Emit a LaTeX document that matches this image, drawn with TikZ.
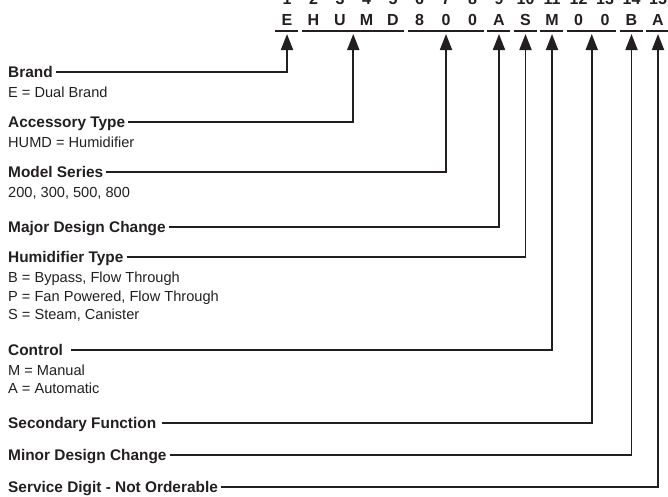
\documentclass[tikz,border=0pt]{standalone}
\usepackage{fontspec}
\setmainfont{Liberation Sans}
\usetikzlibrary{arrows.meta,calc}
\definecolor{ink}{HTML}{231F20}
\begin{document}
\begin{tikzpicture}[x=1pt,y=-1pt,
  lbl/.style={anchor=west,inner sep=0pt,text height=11pt,text depth=0pt,text=ink,font=\fontsize{15.4}{18}\selectfont\bfseries},
  val/.style={anchor=base west,inner sep=0pt,text=ink,font=\fontsize{14.6}{18}\selectfont},
  dig/.style={anchor=base,inner sep=0pt,text=ink,font=\fontsize{16}{18}\selectfont\bfseries},
  uline/.style={draw=ink,line width=1.6pt},
  feed/.style={draw=ink,line width=1.8pt,-{Triangle[width=12pt,length=16pt]}}]
\useasboundingbox (0,0) rectangle (668,496);
\clip (0,0) rectangle (668,496);
\foreach \l [count=\i] in {E,H,U,M,D,8,0,0,A,S,M,0,0,B,A} {
  \node[dig] (N\i) at (260.5+26.5*\i,4) {\i};
  \node[dig] (L\i) at (260.5+26.5*\i,25) {\l};
}
\foreach \a/\b in {1/1,2/5,6/8,9/9,10/10,11/11,12/13,14/14,15/15}
  \draw[uline] ($(L\a.base)+(-12,6)$) -- ($(L\b.base)+(11,6)$);
\path (L1.base) ++(0,9) coordinate (G1);
\path ($(L2.base)!.5!(L5.base)$) ++(0,9) coordinate (G2);
\path (L7.base) ++(0,9) coordinate (G3);
\path (L9.base) ++(0,9) coordinate (G4);
\path (L10.base) ++(0,9) coordinate (G5);
\path (L11.base) ++(0,9) coordinate (G6);
\path ($(L12.base)!.5!(L13.base)$) ++(0,9) coordinate (G7);
\path (L14.base) ++(0,9) coordinate (G8);
\path (L15.base) ++(0,9) coordinate (G9);
\node[lbl] (brand) at (8,72) {Brand};
\node[val] (brandv) at ([yshift=-25.3pt]brand.west) {E = Dual Brand};
\node[lbl] (acc) at (8,122) {Accessory Type};
\node[val] (accv) at ([yshift=-25.3pt]acc.west) {HUMD = Humidifier};
\node[lbl] (model) at (8,172) {Model Series};
\node[val] (modelv) at ([yshift=-25.3pt]model.west) {200, 300, 500, 800};
\node[lbl] (major) at (8,227) {Major Design Change};
\node[lbl] (humtype) at (8,257) {Humidifier Type};
\node[val] (humb) at ([yshift=-25.3pt]humtype.west) {B = Bypass, Flow Through};
\node[val] (hump) at ([yshift=-18.7pt]humb.base west) {P = Fan Powered, Flow Through};
\node[val] (hums) at ([yshift=-18.7pt]hump.base west) {S = Steam, Canister};
\node[lbl] (ctrl) at (8,350) {Control};
\node[val] (ctrlm) at ([yshift=-25.3pt]ctrl.west) {M = Manual};
\node[val] (ctrla) at ([yshift=-18pt]ctrlm.base west) {A = Automatic};
\node[lbl] (second) at (8,423) {Secondary Function};
\node[lbl] (minor) at (8,455) {Minor Design Change};
\node[lbl] (service) at (8,487) {Service Digit - Not Orderable};
\draw[feed] ([xshift=3pt]brand.east) -| (G1);
\draw[feed] ([xshift=3pt]acc.east) -| (G2);
\draw[feed] ([xshift=3pt]model.east) -| (G3);
\draw[feed] ([xshift=3pt]major.east) -| (G4);
\draw[feed] ([xshift=3pt]humtype.east) -| (G5);
\draw[feed] ([xshift=8pt]ctrl.east) -| (G6);
\draw[feed] ([xshift=6pt]second.east) -| (G7);
\draw[feed] ([xshift=3pt]minor.east) -| (G8);
\draw[feed] ([xshift=3pt]service.east) -| (G9);
\end{tikzpicture}
\end{document}
